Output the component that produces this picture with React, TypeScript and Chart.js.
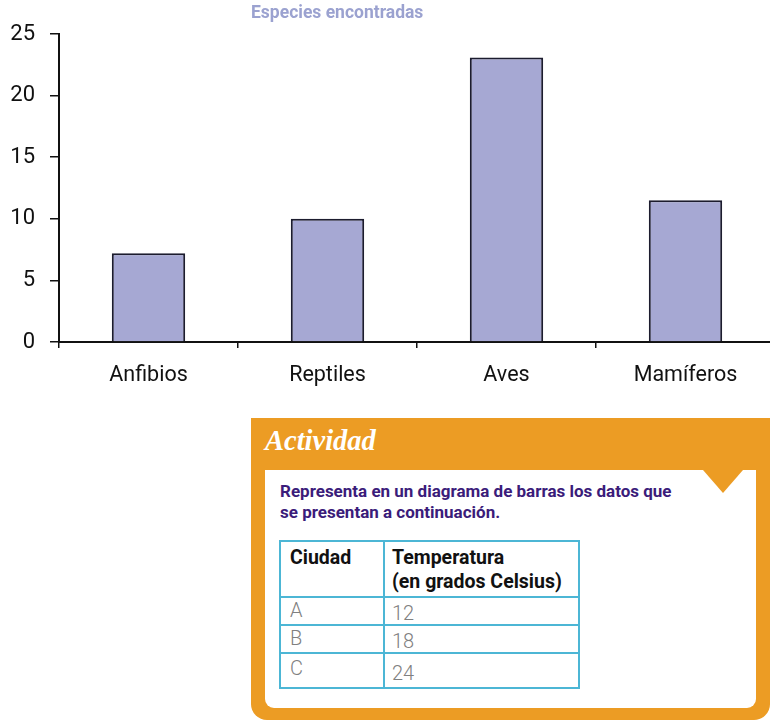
import React, { useEffect, useRef } from "react";
import { Chart, registerables } from "chart.js";

Chart.register(...registerables);

const categories = ["Anfibios", "Reptiles", "Aves", "Mamíferos"];
const especies = [7.2, 10, 23.1, 11.5];
const yTicks = [0, 5, 10, 15, 20, 25];
const chartTitle = "Especies encontradas";

const tablaCiudades = ["A", "B", "C"];
const tablaTemperaturas = [12, 18, 24];

const ORANGE = "#ec9c24";
const CYAN = "#4cb6d5";

export default function App() {
  const ref = useRef<HTMLCanvasElement | null>(null);

  useEffect(() => {
    if (!ref.current) return;
    const chart = new Chart(ref.current, {
      type: "bar",
      data: {
        labels: categories,
        datasets: [
          {
            label: chartTitle,
            data: especies,
            backgroundColor: "#a6a8d3",
            borderColor: "#1c1c2e",
            borderWidth: 2,
            categoryPercentage: 1,
            barPercentage: 0.41,
          },
        ],
      },
      options: {
        responsive: false,
        animation: false,
        layout: { padding: { left: 0, top: 34, right: 5, bottom: 0 } },
        plugins: {
          legend: { display: false },
          title: { display: false },
          tooltip: { enabled: false },
        },
        scales: {
          x: {
            offset: true,
            grid: {
              offset: true,
              drawOnChartArea: false,
              drawTicks: true,
              tickLength: 6,
              color: "#111",
              lineWidth: 1.5,
            },
            border: { display: true, color: "#111", width: 2 },
            ticks: {
              color: "#111",
              font: { family: "Roboto", size: 21.5 },
              padding: 15,
            },
            afterFit: (s: any) => {
              s.height = 58;
            },
          },
          y: {
            min: 0,
            max: 25,
            afterBuildTicks: (s: any) => {
              s.ticks = yTicks.map((v) => ({ value: v }));
            },
            grid: {
              drawOnChartArea: false,
              drawTicks: true,
              tickLength: 9,
              color: "#111",
              lineWidth: 1.5,
            },
            border: { display: true, color: "#111", width: 2 },
            ticks: {
              color: "#111",
              font: { family: "Roboto", size: 22 },
              padding: 15,
            },
            afterFit: (s: any) => {
              s.width = 59;
            },
          },
        },
      },
    });
    return () => chart.destroy();
  }, []);

  const abs = (l: number, t: number, w: number, h: number, bg: string) => ({
    position: "absolute" as const,
    left: l,
    top: t,
    width: w,
    height: h,
    background: bg,
  });

  // table geometry relative to the orange box
  const tL = 29, tT = 123, tW = 299, tH = 147;
  const colX = 133;
  const rowY = [179, 207, 235];
  const headStyle = {
    position: "absolute" as const,
    fontWeight: 700,
    fontSize: 19.5,
    lineHeight: "24px",
    color: "#111",
    whiteSpace: "nowrap" as const,
  };
  const dataStyle = {
    position: "absolute" as const,
    fontWeight: 300,
    fontSize: 20,
    lineHeight: "24px",
    color: "#808080",
    whiteSpace: "nowrap" as const,
  };
  const dataLeftY = [180, 208, 238];
  const dataRightY = [183, 211, 243];

  return (
    <div
      style={{
        position: "absolute",
        left: 0,
        top: 0,
        width: 770,
        height: 723,
        overflow: "hidden",
        background: "#fff",
        fontFamily: "Roboto, sans-serif",
      }}
    >
      <canvas
        ref={ref}
        width={780}
        height={400}
        style={{ position: "absolute", left: 0, top: 0, width: 780, height: 400 }}
      />
      <div
        style={{
          position: "absolute",
          left: 251,
          top: 2,
          fontSize: 17.5,
          fontWeight: 700,
          color: "#9ba2d0",
          whiteSpace: "nowrap",
        }}
      >
        {chartTitle}
      </div>

      {/* Actividad box */}
      <div
        style={{
          position: "absolute",
          left: 251,
          top: 418,
          width: 519,
          height: 302,
          background: ORANGE,
          borderRadius: "0 0 16px 16px",
        }}
      >
        <div
          style={{
            position: "absolute",
            left: 14,
            top: 7,
            fontFamily: "'Liberation Serif', serif",
            fontStyle: "italic",
            fontWeight: 700,
            fontSize: 28.5,
            color: "#fff",
            whiteSpace: "nowrap",
          }}
        >
          Actividad
        </div>
        <div
          style={{
            ...abs(14, 52, 491, 238, "#fff"),
            borderRadius: "0 0 9px 9px",
          }}
        />
        <div
          style={{
            position: "absolute",
            left: 452,
            top: 52,
            width: 0,
            height: 0,
            borderLeft: "20px solid transparent",
            borderRight: "20px solid transparent",
            borderTop: `23px solid ${ORANGE}`,
          }}
        />
        <div
          style={{
            position: "absolute",
            left: 29,
            top: 63,
            fontSize: 17,
            fontWeight: 700,
            lineHeight: "21px",
            color: "#3b1c7a",
            whiteSpace: "nowrap",
          }}
        >
          Representa en un diagrama de barras los datos que
          <br />
          se presentan a continuación.
        </div>

        {/* table */}
        <div
          style={{
            position: "absolute",
            left: tL - 1,
            top: tT - 1,
            width: tW + 2,
            height: tH + 2,
            boxSizing: "border-box",
            border: `2px solid ${CYAN}`,
          }}
        />
        <div style={abs(colX - 1, tT, 2, tH, CYAN)} />
        {rowY.map((y) => (
          <div key={y} style={abs(tL, y - 1, tW, 2, CYAN)} />
        ))}
        <div style={{ ...headStyle, left: 39, top: 128 }}>Ciudad</div>
        <div style={{ ...headStyle, left: 141, top: 128 }}>
          Temperatura
          <br />
          (en grados Celsius)
        </div>
        {tablaCiudades.map((c, i) => (
          <div key={c} style={{ ...dataStyle, left: 39, top: dataLeftY[i] }}>
            {c}
          </div>
        ))}
        {tablaTemperaturas.map((v, i) => (
          <div key={v} style={{ ...dataStyle, left: 141, top: dataRightY[i] }}>
            {v}
          </div>
        ))}
      </div>
    </div>
  );
}
